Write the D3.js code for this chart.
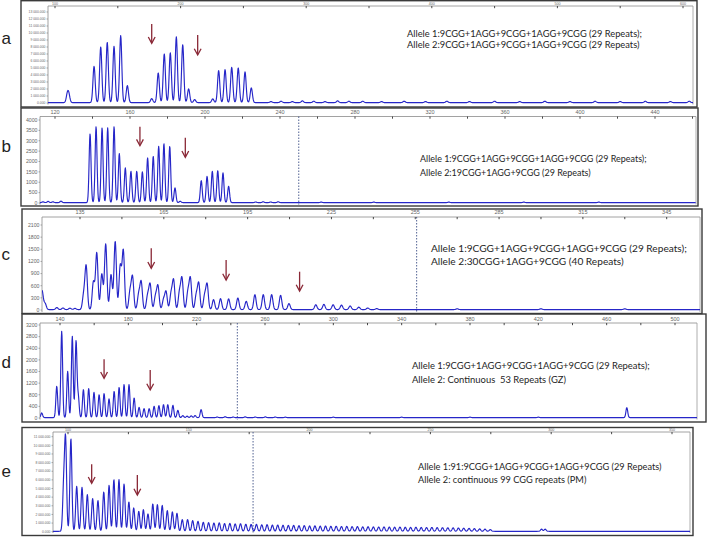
<!DOCTYPE html>
<html><head><meta charset="utf-8">
<script src="https://cdn.jsdelivr.net/npm/d3@7/dist/d3.min.js"></script>
<style>body{margin:0;background:#fff}svg{display:block}</style>
</head><body>
<svg id="chart" width="708" height="539"></svg>
<script>
// ---------------- DATA ----------------
const panelLetters = ["a", "b", "c", "d", "e"];
const alleleLines = [
  ["Allele 1:9CGG+1AGG+9CGG+1AGG+9CGG (29 Repeats);", "Allele 2:9CGG+1AGG+9CGG+1AGG+9CGG (29 Repeats)"],
  ["Allele 1:9CGG+1AGG+9CGG+1AGG+9CGG (29 Repeats);", "Allele 2:19CGG+1AGG+9CGG (29 Repeats)"],
  ["Allele 1:9CGG+1AGG+9CGG+1AGG+9CGG (29 Repeats);", "Allele 2:30CGG+1AGG+9CGG (40 Repeats)"],
  ["Allele 1:9CGG+1AGG+9CGG+1AGG+9CGG (29 Repeats);", "Allele 2: Continuous\u00a0 53 Repeats (GZ)"],
  ["Allele 1:91:9CGG+1AGG+9CGG+1AGG+9CGG (29 Repeats)", "Allele 2: continuous 99 CGG repeats (PM)"]
];

// x tick labels (size, bp)
const aXTicks = [100, 200, 300, 400, 500, 600];
const bXTicks = [120, 160, 200, 240, 280, 320, 360, 400, 440];
const cXTicks = [135, 165, 195, 225, 255, 285, 315, 345];
const dXTicks = [140, 180, 220, 260, 300, 340, 380, 420, 460, 500];
const eXTicks = [100, 150, 200, 250, 300, 350];

// y tick labels (RFU)
const aYTicks = [0, 1000, 2000, 3000, 4000, 5000, 6000, 7000, 8000, 9000, 10000, 11000, 12000, 13000];
const bYTicks = [0, 500, 1000, 1500, 2000, 2500, 3000, 3500, 4000];
const cYTicks = [0, 300, 600, 900, 1200, 1500, 1800, 2100];
const dYTicks = [0, 400, 800, 1200, 1600, 2000, 2400, 2800, 3200];
const eYTicks = [0, 1000, 2000, 3000, 4000, 5000, 6000, 7000, 8000, 9000, 10000, 11000];

// peaks: size and height
const aPeakSize = [109.8, 111.0, 131.1, 136.4, 141.6, 147.0, 152.3, 157.6,
  177.0, 182.2, 187.0, 191.8, 196.6, 201.7, 206.4, 211.2,
  225.6, 230.3, 235.4, 240.7, 245.9, 251.3, 256.3,
  272, 280, 289, 297, 306, 315, 325, 334, 345, 360, 378, 395, 412, 430, 450, 470, 490, 510, 530, 550, 570, 590, 605];
const aPeakHeight = [1100, 1100, 5186, 7957, 8614, 8043, 9571, 2429,
  571, 4243, 6957, 7100, 9386, 8286, 1957, 429,
  529, 4571, 4714, 5043, 4957, 4386, 2100,
  150, 200, 150, 250, 200, 150, 250, 200, 200, 150, 200, 150, 200, 150, 200, 150, 200, 150, 200, 150, 200, 150, 200];

const bPeakSize = [113.6, 116.3, 118.9, 123.2,
  138.7, 141.9, 145.1, 148.1, 151.5, 154.3, 157.5, 160.5, 163.6, 166.6, 169.4, 172.4, 175.3, 178.1, 181.2, 184.0, 186.8,
  198.0, 201.1, 203.9, 206.8, 209.6, 212.6,
  227, 231, 235, 239, 262, 290, 330, 370, 410];
const bPeakHeight = [40, 60, 40, 70,
  3311, 3663, 3600, 3600, 3663, 2361, 1672, 1508, 1508, 1480, 2154, 2231, 2713, 2843, 2713, 708, 63,
  1060, 1267, 1508, 1542, 1431, 786,
  30, 40, 30, 40, 25, 25, 25, 25, 25];

const cPeakSize = [121.4, 122.5, 126.7, 128.9, 131.4, 133.2,
  136.3, 137.2, 139.8, 141.0, 142.8, 144.2, 146.1, 147.6, 149.4, 150.5,
  152.9, 153.8, 156.0, 156.9, 159.2, 160.1, 162.0, 162.9, 164.9, 165.8, 167.6, 168.5, 170.6, 171.5, 173.6, 174.5, 176.6, 177.5, 179.6, 180.5,
  182.8, 185.3, 188.2, 191.5, 194.5, 197.6, 200.6, 203.6, 206.8, 209.8,
  219.4, 222.3, 225.6, 228.6, 231.7, 234.8, 238.0, 241.2, 270, 300, 330];
const cPeakHeight = [470, 150, 50, 40, 35, 30,
  350, 1070, 684, 1400, 881, 1622, 864, 1688, 1070, 1457,
  440, 799, 370, 675, 340, 618, 320, 577, 240, 436, 390, 716, 420, 766, 420, 766, 350, 642, 340, 618,
  247, 272, 264, 288, 206, 370, 370, 370, 354, 148,
  120, 130, 120, 110, 90, 60, 40, 25, 20, 20, 20];

const dPeakSize = [129.3, 138.1, 141.0, 144.5, 147.2, 149.4, 150.7, 153.7, 156.8, 159.9, 162.9, 165.8, 168.7, 171.7, 174.6, 177.5, 180.4,
  183.4, 186.3, 189.2, 192.2, 195.1, 197.9, 200.6, 203.1, 206.1, 209.0, 211.9, 214.4, 216.8, 219.1, 222.6,
  232, 236.7, 241.4, 248.4, 254.3, 260.2, 266, 271.9, 300, 340, 380, 420, 471.8];
const dPeakHeight = [160, 1078, 2970, 1594, 2798, 2626, 712, 963, 998, 871, 791, 826, 643, 905, 1043, 1136, 1136,
  677, 355, 310, 310, 390, 413, 447, 447, 424, 252, 69, 50, 60, 70, 275,
  20, 30, 20, 25, 20, 25, 20, 15, 15, 15, 15, 15, 344];

const ePeakSize = [98.2, 99.0, 101.2, 103.6, 105.8, 108.0, 110.2, 112.4, 114.8, 117.0, 119.0, 121.1, 123.2, 125.2, 127.2, 129.3,
  131.2, 133.1, 135.1, 137.0, 139.0, 141.1, 143.2, 145.1, 147.3, 149.5, 151.6, 153.8, 156.0,
  158.2, 160.4, 162.6, 164.8, 167.0, 169.2, 171.4, 173.6, 175.8, 178.0, 180.2, 182.4, 184.6, 186.8, 189.0, 191.2, 193.4, 195.6,
  197.8, 200.0, 202.2, 204.4, 206.6, 208.8, 211.0, 213.2, 215.4, 217.6, 219.8, 222.0, 224.2, 226.4, 228.6, 230.8, 233.0, 235.2,
  237.4, 239.6, 241.8, 244.0, 246.2, 248.4, 250.6, 252.8, 255.0, 257.2, 259.4, 261.6, 263.8, 266.0, 268.2, 270.4, 272.6, 274.8,
  296.0, 297.5];
const ePeakHeight = [5000, 10400, 10729, 5208, 5093, 4248, 3785, 3553, 4560, 5324, 5984, 5984, 5486, 3403, 2708, 2315,
  2512, 2014, 3171, 3090, 3009, 2396, 2245, 2083, 1354, 1354, 1238, 1157, 1042,
  1000, 960, 980, 900, 920, 860, 880, 820, 800, 810, 760, 770, 720, 730, 700, 680, 690, 650,
  660, 620, 630, 600, 610, 580, 590, 560, 570, 540, 550, 520, 530, 510, 500, 510, 490, 480,
  490, 470, 460, 470, 450, 440, 450, 430, 420, 410, 400, 380, 360, 340, 310, 280, 250, 200,
  250, 250];

// arrows: size, top and bottom (RFU)
const aArrowSize = [177.0, 213.6], aArrowTop = [11286, 9714], aArrowBottom = [8529, 6857];
const bArrowSize = [165.3, 189.5], bArrowTop = [3677, 3147], bArrowBottom = [2761, 2202];
const cArrowSize = [160.5, 187.3, 213.6], cArrowTop = [1524, 1235, 946], cArrowBottom = [1030, 741, 469];
const dArrowSize = [165.8, 192.8], dArrowTop = [2020, 1652], dArrowBottom = [1366, 964];
const eArrowSize = [109.8, 128.7], eArrowTop = [7801, 6563], eArrowBottom = [5602, 4248];

// dashed marker lines (size)
const cutoffSize = [null, 250, 255.5, 243.8, 176.6];

// ---------------- LAYOUT ----------------
const fmtBig = v => d3.format(",.3f")(v).replace(/,/g, " ");
const panels = [
  {box: [21, 0.7, 697, 107], plot: {l: 48, r: 693, t: 6, b: 104.5}, xd: [100, 600], xr: [55, 683], yd: [0, 13000], yr: [103, 12],
   xt: aXTicks, yt: aYTicks, yf: fmtBig, tfs: 3.6, yfs: 3.4, xlabY: 5, sx: aPeakSize, sy: aPeakHeight, sig: 1.1,
   ax: aArrowSize, at: aArrowTop, ab: aArrowBottom, tx: 407, ty: [36.5, 48], tw: 235, fs: 10.5, ly: 44},
  {box: [21, 108, 698, 206], plot: {l: 40, r: 696, t: 116.5, b: 204.5}, xd: [120, 440], xr: [55, 655], yd: [0, 4000], yr: [203, 120],
   xt: bXTicks, yt: bYTicks, yf: d3.format("d"), tfs: 5.5, yfs: 5.2, xlabY: 114, sx: bPeakSize, sy: bPeakHeight, sig: 0.95,
   ax: bArrowSize, at: bArrowTop, ab: bArrowBottom, tx: 420, ty: [161.5, 175.5], tw: 227, fs: 10.5, ly: 152},
  {box: [22, 209, 702, 313.5], plot: {l: 42, r: 700, t: 217, b: 312}, xd: [135, 345], xr: [80, 666.7], yd: [0, 2100], yr: [310, 225],
   xt: cXTicks, yt: cYTicks, yf: d3.format("d"), tfs: 5.5, yfs: 5.2, xlabY: 213.5, sx: cPeakSize, sy: cPeakHeight, sig: 1.2,
   ax: cArrowSize, at: cArrowTop, ab: cArrowBottom, tx: 431, ty: [251.5, 265], tw: 256, fs: 11, ly: 260},
  {box: [22, 314, 706, 422], plot: {l: 40, r: 697, t: 323, b: 419.5}, xd: [140, 500], xr: [60, 675], yd: [0, 3200], yr: [418, 325],
   xt: dXTicks, yt: dYTicks, yf: d3.format("d"), tfs: 5.5, yfs: 5.2, xlabY: 320.5, sx: dPeakSize, sy: dPeakHeight, sig: 0.9,
   ax: dArrowSize, at: dArrowTop, ab: dArrowBottom, tx: 412, ty: [368.5, 383], tw: 238, fs: 10.5, ly: 368},
  {box: [22, 427.5, 693, 535.5], plot: {l: 53, r: 690, t: 432, b: 533}, xd: [100, 350], xr: [68, 672], yd: [0, 11000], yr: [531.7, 436.7],
   xt: eXTicks, yt: eYTicks, yf: fmtBig, tfs: 3.6, yfs: 3.4, xlabY: 430.8, sx: ePeakSize, sy: ePeakHeight, sig: 1.0,
   ax: eArrowSize, at: eArrowTop, ab: eArrowBottom, tx: 418, ty: [469.5, 482.5], tw: 244, fs: 10.5, ly: 477}
];

const svg = d3.select("#chart");
const defs = svg.append("defs");
const traceColor = "#2626c8";
const arrowColor = "#8a2836";

panels.forEach((p, i) => {
  const g = svg.append("g");
  const x = d3.scaleLinear().domain(p.xd).range(p.xr);
  const y = d3.scaleLinear().domain(p.yd).range(p.yr);
  const P = p.plot;

  defs.append("clipPath").attr("id", "clip" + i)
    .append("rect").attr("x", P.l).attr("y", P.t).attr("width", P.r - P.l).attr("height", P.b - P.t + 1);

  g.append("line").attr("x1", P.l).attr("x2", P.r).attr("y1", P.t).attr("y2", P.t).attr("stroke", "#8a8a8a").attr("stroke-width", 0.8);
  g.append("line").attr("x1", P.l).attr("x2", P.l).attr("y1", P.t).attr("y2", P.b).attr("stroke", "#8a8a8a").attr("stroke-width", 0.8);
  g.append("line").attr("x1", P.r).attr("x2", P.r).attr("y1", P.t).attr("y2", P.b).attr("stroke", "#9a9a9a").attr("stroke-width", 0.8);

  const step = p.xt[1] - p.xt[0];
  const minor = [];
  for (let k = 0; k < p.xt.length; k++) { minor.push(p.xt[k]); minor.push(p.xt[k] + step / 2); }
  minor.filter(v => x(v) > P.l && x(v) < P.r).forEach(v => {
    g.append("line").attr("x1", x(v)).attr("x2", x(v)).attr("y1", P.t).attr("y2", P.t + 2.2)
      .attr("stroke", "#333").attr("stroke-width", 0.9);
  });
  g.selectAll(".xl").data(p.xt.filter(v => x(v) > P.l - 5 && x(v) < P.r + 5)).enter().append("text")
    .attr("x", d => x(d)).attr("y", p.xlabY).attr("text-anchor", "middle")
    .attr("font-family", "Liberation Sans, Arial, sans-serif").attr("font-size", p.tfs).attr("fill", "#666")
    .text(d => d);

  p.yt.forEach(v => {
    g.append("line").attr("x1", P.l - 1.5).attr("x2", P.l).attr("y1", y(v)).attr("y2", y(v)).attr("stroke", "#777").attr("stroke-width", 0.6);
  });
  g.selectAll(".yl").data(p.yt).enter().append("text")
    .attr("x", P.l - 2.5).attr("y", d => y(d) + p.yfs * 0.35).attr("text-anchor", "end")
    .attr("font-family", "Liberation Sans, Arial, sans-serif").attr("font-size", p.yfs).attr("fill", "#666")
    .text(d => p.yf(d));

  if (cutoffSize[i] !== null) {
    g.append("line").attr("x1", x(cutoffSize[i])).attr("x2", x(cutoffSize[i])).attr("y1", P.t).attr("y2", P.b)
      .attr("stroke", "#3d4f86").attr("stroke-width", 0.9).attr("stroke-dasharray", "1.5,1.5");
  }

  // electropherogram trace built from the peak list
  const pxPeaks = p.sx.map(v => x(v));
  const u0 = x.invert(P.l), u1 = x.invert(P.r);
  const du = (u1 - u0) / ((P.r - P.l) * 3);
  const pts = [];
  for (let u = u0; u <= u1; u += du) {
    const sx = x(u);
    let v = 0;
    for (let k = 0; k < pxPeaks.length; k++) {
      const d = (sx - pxPeaks[k]) / p.sig;
      if (d > -7 && d < 7) v += p.sy[k] * Math.exp(-0.5 * d * d);
    }
    pts.push([u, v]);
  }
  const line = d3.line().x(d => x(d[0])).y(d => y(d[1]) - 0.4);
  g.append("path").attr("d", line(pts)).attr("fill", "none").attr("stroke", traceColor)
    .attr("stroke-width", 1.15).attr("stroke-linejoin", "round").attr("clip-path", `url(#clip${i})`);

  p.ax.forEach((v, k) => {
    const xx = x(v), yt = y(p.at[k]), yb = y(p.ab[k]);
    g.append("line").attr("x1", xx).attr("x2", xx).attr("y1", yt).attr("y2", yb - 0.5)
      .attr("stroke", arrowColor).attr("stroke-width", 1.3);
    g.append("path").attr("d", `M${xx - 3.4},${yb - 6.3}L${xx},${yb}L${xx + 3.4},${yb - 6.3}`)
      .attr("fill", "none").attr("stroke", arrowColor).attr("stroke-width", 1.3);
  });

  const B = p.box;
  g.append("rect").attr("x", B[0]).attr("y", B[1]).attr("width", B[2] - B[0]).attr("height", B[3] - B[1])
    .attr("fill", "none").attr("stroke", "#3a3a3a").attr("stroke-width", 1.4);

  // allele text: font size tuned so that line 1 spans the measured width
  const font = "Lato, Open Sans, sans-serif";
  const t1 = g.append("text").attr("x", p.tx).attr("y", p.ty[0])
    .attr("font-family", font).attr("font-size", p.fs).attr("fill", "#1e1e1e")
    .text(alleleLines[i][0]);
  const w1 = t1.node().getComputedTextLength();
  const fs = p.fs * p.tw / w1;
  t1.attr("font-size", fs);
  g.append("text").attr("x", p.tx).attr("y", p.ty[1])
    .attr("font-family", font).attr("font-size", fs).attr("fill", "#1e1e1e")
    .text(alleleLines[i][1]);

  svg.append("text").attr("x", 1.5).attr("y", p.ly)
    .attr("font-family", "Liberation Sans, Arial, sans-serif").attr("font-size", 17).attr("fill", "#222")
    .text(panelLetters[i]);
});
</script>
</body></html>
